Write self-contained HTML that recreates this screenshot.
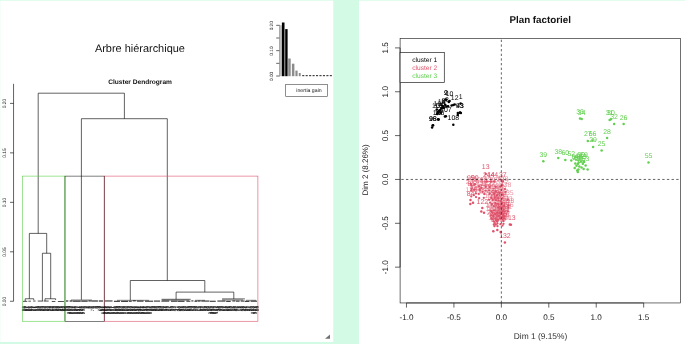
<!DOCTYPE html>
<html lang="fr"><head><meta charset="utf-8"><title>HCPCshiny</title>
<style>html,body{margin:0;padding:0;background:#D2FAE5;overflow:hidden}svg{display:block;position:absolute;left:0;top:0}text{font-family:"Liberation Sans",sans-serif;text-rendering:geometricPrecision}</style></head><body>
<svg width="685" height="344" viewBox="0 0 685 344">
<defs><filter id="soft" filterUnits="userSpaceOnUse" x="-10" y="-10" width="705" height="364" color-interpolation-filters="sRGB"><feGaussianBlur stdDeviation="0.3"/></filter></defs>
<g filter="url(#soft)">
<rect x="-10" y="-10" width="705" height="364" fill="#D2FAE5"/>
<rect x="0.2" y="0.65" width="333.1" height="341.25" fill="#fff"/>
<rect x="359.0" y="0.65" width="336.2" height="353.5" fill="#fff"/>
<polygon points="325.0,338.7 330,334.6 330,338.7" fill="#707070"/>
<text x="139.90" y="52.10" font-size="10.95" fill="#111" text-anchor="middle" font-weight="normal" >Arbre hiérarchique</text>
<text x="140.10" y="84.30" font-size="6.60" fill="#111" text-anchor="middle" font-weight="bold" >Cluster Dendrogram</text>
<line x1="13.55" y1="83.80" x2="13.55" y2="301.27" stroke="#000" stroke-width="0.62" />
<line x1="10.00" y1="103.40" x2="13.55" y2="103.40" stroke="#000" stroke-width="0.62" />
<text x="5.85" y="103.60" font-size="4.90" fill="#222" text-anchor="middle" font-weight="normal" transform="rotate(-90 5.85 103.60)" >0.20</text>
<line x1="10.00" y1="152.87" x2="13.55" y2="152.87" stroke="#000" stroke-width="0.62" />
<text x="5.85" y="153.07" font-size="4.90" fill="#222" text-anchor="middle" font-weight="normal" transform="rotate(-90 5.85 153.07)" >0.15</text>
<line x1="10.00" y1="202.33" x2="13.55" y2="202.33" stroke="#000" stroke-width="0.62" />
<text x="5.85" y="202.53" font-size="4.90" fill="#222" text-anchor="middle" font-weight="normal" transform="rotate(-90 5.85 202.53)" >0.10</text>
<line x1="10.00" y1="251.80" x2="13.55" y2="251.80" stroke="#000" stroke-width="0.62" />
<text x="5.85" y="252.00" font-size="4.90" fill="#222" text-anchor="middle" font-weight="normal" transform="rotate(-90 5.85 252.00)" >0.05</text>
<line x1="10.00" y1="301.27" x2="13.55" y2="301.27" stroke="#000" stroke-width="0.62" />
<text x="5.85" y="301.47" font-size="4.90" fill="#222" text-anchor="middle" font-weight="normal" transform="rotate(-90 5.85 301.47)" >0.00</text>
<line x1="38.20" y1="93.20" x2="124.40" y2="93.20" stroke="#000" stroke-width="0.62" />
<line x1="38.20" y1="93.20" x2="38.20" y2="233.40" stroke="#000" stroke-width="0.62" />
<line x1="124.40" y1="93.20" x2="124.40" y2="118.70" stroke="#000" stroke-width="0.62" />
<line x1="81.40" y1="118.70" x2="167.30" y2="118.70" stroke="#000" stroke-width="0.62" />
<line x1="81.40" y1="118.70" x2="81.40" y2="299.80" stroke="#000" stroke-width="0.62" />
<line x1="167.30" y1="118.70" x2="167.30" y2="280.50" stroke="#000" stroke-width="0.62" />
<line x1="29.35" y1="233.40" x2="46.70" y2="233.40" stroke="#000" stroke-width="0.62" />
<line x1="29.35" y1="233.40" x2="29.35" y2="298.76" stroke="#000" stroke-width="0.62" />
<line x1="46.70" y1="233.40" x2="46.70" y2="253.25" stroke="#000" stroke-width="0.62" />
<line x1="42.40" y1="253.25" x2="50.70" y2="253.25" stroke="#000" stroke-width="0.62" />
<line x1="42.40" y1="253.25" x2="42.40" y2="301.20" stroke="#000" stroke-width="0.62" />
<line x1="50.70" y1="253.25" x2="50.70" y2="298.76" stroke="#000" stroke-width="0.62" />
<line x1="25.20" y1="298.76" x2="33.75" y2="298.76" stroke="#000" stroke-width="0.62" />
<line x1="25.20" y1="298.76" x2="25.20" y2="301.20" stroke="#000" stroke-width="0.62" />
<line x1="33.75" y1="298.76" x2="33.75" y2="300.00" stroke="#000" stroke-width="0.62" />
<line x1="45.00" y1="298.76" x2="55.60" y2="298.76" stroke="#000" stroke-width="0.62" />
<line x1="45.00" y1="298.76" x2="45.00" y2="301.20" stroke="#000" stroke-width="0.62" />
<line x1="55.60" y1="298.76" x2="55.60" y2="300.00" stroke="#000" stroke-width="0.62" />
<line x1="130.30" y1="280.50" x2="204.80" y2="280.50" stroke="#000" stroke-width="0.62" />
<line x1="130.30" y1="280.50" x2="130.30" y2="300.00" stroke="#000" stroke-width="0.62" />
<line x1="204.80" y1="280.50" x2="204.80" y2="292.10" stroke="#000" stroke-width="0.62" />
<line x1="176.10" y1="292.10" x2="233.80" y2="292.10" stroke="#000" stroke-width="0.62" />
<line x1="176.10" y1="292.10" x2="176.10" y2="299.30" stroke="#000" stroke-width="0.62" />
<line x1="233.80" y1="292.10" x2="233.80" y2="298.90" stroke="#000" stroke-width="0.62" />
<line x1="161.50" y1="299.30" x2="190.70" y2="299.30" stroke="#000" stroke-width="0.62" />
<line x1="222.10" y1="298.90" x2="244.90" y2="298.90" stroke="#000" stroke-width="0.62" />
<line x1="23.00" y1="301.33" x2="27.27" y2="301.33" stroke="#000" stroke-width="0.70" />
<line x1="28.39" y1="301.18" x2="30.89" y2="301.18" stroke="#000" stroke-width="0.70" />
<line x1="33.17" y1="301.02" x2="35.57" y2="301.02" stroke="#000" stroke-width="0.70" />
<line x1="37.76" y1="301.05" x2="42.80" y2="301.05" stroke="#000" stroke-width="0.70" />
<line x1="43.67" y1="301.06" x2="48.65" y2="301.06" stroke="#000" stroke-width="0.70" />
<line x1="51.79" y1="301.47" x2="55.36" y2="301.47" stroke="#000" stroke-width="0.70" />
<line x1="57.90" y1="301.49" x2="63.94" y2="301.49" stroke="#000" stroke-width="0.70" />
<line x1="66.00" y1="300.99" x2="68.33" y2="300.99" stroke="#000" stroke-width="1.00" />
<line x1="69.62" y1="301.00" x2="72.63" y2="301.00" stroke="#000" stroke-width="1.00" />
<line x1="73.04" y1="301.14" x2="80.75" y2="301.14" stroke="#000" stroke-width="1.00" />
<line x1="81.24" y1="301.12" x2="87.71" y2="301.12" stroke="#000" stroke-width="1.00" />
<line x1="88.42" y1="300.95" x2="90.86" y2="300.95" stroke="#000" stroke-width="1.00" />
<line x1="91.20" y1="301.01" x2="97.96" y2="301.01" stroke="#000" stroke-width="1.00" />
<line x1="98.74" y1="301.00" x2="103.00" y2="301.00" stroke="#000" stroke-width="1.00" />
<line x1="105.00" y1="300.97" x2="112.56" y2="300.97" stroke="#000" stroke-width="0.90" />
<line x1="113.94" y1="301.29" x2="119.96" y2="301.29" stroke="#000" stroke-width="0.90" />
<line x1="121.08" y1="301.34" x2="128.19" y2="301.34" stroke="#000" stroke-width="0.90" />
<line x1="128.96" y1="301.23" x2="131.78" y2="301.23" stroke="#000" stroke-width="0.90" />
<line x1="132.74" y1="300.87" x2="135.81" y2="300.87" stroke="#000" stroke-width="0.90" />
<line x1="136.87" y1="301.14" x2="143.55" y2="301.14" stroke="#000" stroke-width="0.90" />
<line x1="145.03" y1="301.20" x2="153.16" y2="301.20" stroke="#000" stroke-width="0.90" />
<line x1="153.96" y1="301.08" x2="160.12" y2="301.08" stroke="#000" stroke-width="0.90" />
<line x1="161.33" y1="301.09" x2="169.21" y2="301.09" stroke="#000" stroke-width="0.90" />
<line x1="170.96" y1="301.20" x2="177.61" y2="301.20" stroke="#000" stroke-width="0.90" />
<line x1="178.03" y1="301.26" x2="184.56" y2="301.26" stroke="#000" stroke-width="0.90" />
<line x1="186.38" y1="301.18" x2="190.38" y2="301.18" stroke="#000" stroke-width="0.90" />
<line x1="191.29" y1="300.93" x2="193.45" y2="300.93" stroke="#000" stroke-width="0.90" />
<line x1="194.47" y1="301.23" x2="197.29" y2="301.23" stroke="#000" stroke-width="0.90" />
<line x1="197.71" y1="301.05" x2="200.62" y2="301.05" stroke="#000" stroke-width="0.90" />
<line x1="201.32" y1="301.07" x2="209.42" y2="301.07" stroke="#000" stroke-width="0.90" />
<line x1="209.88" y1="301.26" x2="215.72" y2="301.26" stroke="#000" stroke-width="0.90" />
<line x1="217.38" y1="301.06" x2="225.43" y2="301.06" stroke="#000" stroke-width="0.90" />
<line x1="226.18" y1="301.33" x2="230.69" y2="301.33" stroke="#000" stroke-width="0.90" />
<line x1="232.35" y1="300.97" x2="235.41" y2="300.97" stroke="#000" stroke-width="0.90" />
<line x1="236.01" y1="301.14" x2="239.64" y2="301.14" stroke="#000" stroke-width="0.90" />
<line x1="240.70" y1="301.06" x2="244.54" y2="301.06" stroke="#000" stroke-width="0.90" />
<line x1="244.88" y1="301.33" x2="249.46" y2="301.33" stroke="#000" stroke-width="0.90" />
<line x1="250.65" y1="301.16" x2="257.00" y2="301.16" stroke="#000" stroke-width="0.90" />
<line x1="71.00" y1="300.00" x2="92.00" y2="300.00" stroke="#000" stroke-width="0.50" />
<line x1="117.00" y1="300.30" x2="149.00" y2="300.30" stroke="#000" stroke-width="0.50" />
<line x1="162.00" y1="300.20" x2="189.00" y2="300.20" stroke="#000" stroke-width="0.50" />
<line x1="195.00" y1="300.30" x2="205.00" y2="300.30" stroke="#000" stroke-width="0.50" />
<line x1="222.00" y1="300.00" x2="243.00" y2="300.00" stroke="#000" stroke-width="0.50" />
<line x1="246.00" y1="300.30" x2="256.00" y2="300.30" stroke="#000" stroke-width="0.50" />
<rect x="22.45" y="176.10" width="42.30" height="145.16" fill="none" stroke="#61D04F" stroke-width="0.60"/>
<rect x="104.50" y="176.10" width="153.40" height="145.16" fill="none" stroke="#DF536B" stroke-width="0.60"/>
<rect x="65.05" y="176.10" width="39.10" height="145.16" fill="none" stroke="#000" stroke-width="0.50"/>
<g font-size="4.50" fill="#000" opacity="0.95" text-anchor="end" letter-spacing="0.4">
<text transform="translate(22.95 305.5) rotate(-90)" x="0" y="1.6">96</text>
<text transform="translate(23.96 305.5) rotate(-90)" x="0" y="1.6">16</text>
<text transform="translate(24.96 305.5) rotate(-90)" x="0" y="1.6">68</text>
<text transform="translate(25.97 305.5) rotate(-90)" x="0" y="1.6">97</text>
<text transform="translate(26.97 305.5) rotate(-90)" x="0" y="1.6">81</text>
<text transform="translate(27.98 305.5) rotate(-90)" x="0" y="1.6">60</text>
<text transform="translate(28.99 305.5) rotate(-90)" x="0" y="1.6">60</text>
<text transform="translate(29.99 305.5) rotate(-90)" x="0" y="1.6">61</text>
<text transform="translate(31.00 305.5) rotate(-90)" x="0" y="1.6">60</text>
<text transform="translate(32.01 305.5) rotate(-90)" x="0" y="1.6">23</text>
<text transform="translate(33.01 305.5) rotate(-90)" x="0" y="1.6">71</text>
<text transform="translate(34.02 305.5) rotate(-90)" x="0" y="1.6">91</text>
<text transform="translate(35.02 305.5) rotate(-90)" x="0" y="1.6">61</text>
<text transform="translate(36.03 305.5) rotate(-90)" x="0" y="1.6">17</text>
<text transform="translate(37.04 305.5) rotate(-90)" x="0" y="1.6">34</text>
<text transform="translate(38.04 305.5) rotate(-90)" x="0" y="1.6">18</text>
<text transform="translate(39.05 305.5) rotate(-90)" x="0" y="1.6">36</text>
<text transform="translate(40.06 305.5) rotate(-90)" x="0" y="1.6">66</text>
<text transform="translate(41.06 305.5) rotate(-90)" x="0" y="1.6">30</text>
<text transform="translate(42.07 305.5) rotate(-90)" x="0" y="1.6">24</text>
<text transform="translate(43.07 305.5) rotate(-90)" x="0" y="1.6">53</text>
<text transform="translate(44.08 305.5) rotate(-90)" x="0" y="1.6">86</text>
<text transform="translate(45.09 305.5) rotate(-90)" x="0" y="1.6">16</text>
<text transform="translate(46.09 305.5) rotate(-90)" x="0" y="1.6">23</text>
<text transform="translate(47.10 305.5) rotate(-90)" x="0" y="1.6">10</text>
<text transform="translate(48.11 305.5) rotate(-90)" x="0" y="1.6">82</text>
<text transform="translate(49.11 305.5) rotate(-90)" x="0" y="1.6">29</text>
<text transform="translate(50.12 305.5) rotate(-90)" x="0" y="1.6">78</text>
<text transform="translate(51.12 305.5) rotate(-90)" x="0" y="1.6">22</text>
<text transform="translate(52.13 305.5) rotate(-90)" x="0" y="1.6">56</text>
<text transform="translate(53.14 305.5) rotate(-90)" x="0" y="1.6">88</text>
<text transform="translate(54.14 305.5) rotate(-90)" x="0" y="1.6">13</text>
<text transform="translate(55.15 305.5) rotate(-90)" x="0" y="1.6">19</text>
<text transform="translate(56.16 305.5) rotate(-90)" x="0" y="1.6">36</text>
<text transform="translate(57.16 305.5) rotate(-90)" x="0" y="1.6">88</text>
<text transform="translate(58.17 305.5) rotate(-90)" x="0" y="1.6">58</text>
<text transform="translate(59.17 305.5) rotate(-90)" x="0" y="1.6">29</text>
<text transform="translate(60.18 305.5) rotate(-90)" x="0" y="1.6">91</text>
<text transform="translate(61.19 305.5) rotate(-90)" x="0" y="1.6">42</text>
<text transform="translate(62.19 305.5) rotate(-90)" x="0" y="1.6">54</text>
<text transform="translate(63.20 305.5) rotate(-90)" x="0" y="1.6">87</text>
<text transform="translate(64.21 305.5) rotate(-90)" x="0" y="1.6">56</text>
<text transform="translate(65.21 305.5) rotate(-90)" x="0" y="1.6">70</text>
<text transform="translate(66.22 305.5) rotate(-90)" x="0" y="1.6">25</text>
<text transform="translate(67.22 305.5) rotate(-90)" x="0" y="1.6">24</text>
<text transform="translate(68.23 305.5) rotate(-90)" x="0" y="1.6">224</text>
<text transform="translate(69.24 305.5) rotate(-90)" x="0" y="1.6">219</text>
<text transform="translate(70.24 305.5) rotate(-90)" x="0" y="1.6">222</text>
<text transform="translate(71.25 305.5) rotate(-90)" x="0" y="1.6">223</text>
<text transform="translate(72.25 305.5) rotate(-90)" x="0" y="1.6">179</text>
<text transform="translate(73.26 305.5) rotate(-90)" x="0" y="1.6">121</text>
<text transform="translate(74.27 305.5) rotate(-90)" x="0" y="1.6">136</text>
<text transform="translate(75.27 305.5) rotate(-90)" x="0" y="1.6">126</text>
<text transform="translate(76.28 305.5) rotate(-90)" x="0" y="1.6">187</text>
<text transform="translate(77.29 305.5) rotate(-90)" x="0" y="1.6">167</text>
<text transform="translate(78.29 305.5) rotate(-90)" x="0" y="1.6">222</text>
<text transform="translate(79.30 305.5) rotate(-90)" x="0" y="1.6">141</text>
<text transform="translate(80.30 305.5) rotate(-90)" x="0" y="1.6">232</text>
<text transform="translate(81.31 305.5) rotate(-90)" x="0" y="1.6">105</text>
<text transform="translate(82.32 305.5) rotate(-90)" x="0" y="1.6">152</text>
<text transform="translate(83.32 305.5) rotate(-90)" x="0" y="1.6">235</text>
<text transform="translate(84.33 305.5) rotate(-90)" x="0" y="1.6">6</text>
<text transform="translate(85.34 305.5) rotate(-90)" x="0" y="1.6">3</text>
<text transform="translate(86.34 305.5) rotate(-90)" x="0" y="1.6">9</text>
<text transform="translate(87.35 305.5) rotate(-90)" x="0" y="1.6">1</text>
<text transform="translate(88.35 305.5) rotate(-90)" x="0" y="1.6">9</text>
<text transform="translate(89.36 305.5) rotate(-90)" x="0" y="1.6">5</text>
<text transform="translate(90.37 305.5) rotate(-90)" x="0" y="1.6">2</text>
<text transform="translate(91.37 305.5) rotate(-90)" x="0" y="1.6">5</text>
<text transform="translate(92.38 305.5) rotate(-90)" x="0" y="1.6">76</text>
<text transform="translate(93.39 305.5) rotate(-90)" x="0" y="1.6">6</text>
<text transform="translate(94.39 305.5) rotate(-90)" x="0" y="1.6">3</text>
<text transform="translate(95.40 305.5) rotate(-90)" x="0" y="1.6">6</text>
<text transform="translate(96.40 305.5) rotate(-90)" x="0" y="1.6">4</text>
<text transform="translate(97.41 305.5) rotate(-90)" x="0" y="1.6">9</text>
<text transform="translate(98.42 305.5) rotate(-90)" x="0" y="1.6">9</text>
<text transform="translate(99.42 305.5) rotate(-90)" x="0" y="1.6">74</text>
<text transform="translate(100.43 305.5) rotate(-90)" x="0" y="1.6">52</text>
<text transform="translate(101.44 305.5) rotate(-90)" x="0" y="1.6">91</text>
<text transform="translate(102.44 305.5) rotate(-90)" x="0" y="1.6">157</text>
<text transform="translate(103.45 305.5) rotate(-90)" x="0" y="1.6">149</text>
<text transform="translate(104.45 305.5) rotate(-90)" x="0" y="1.6">161</text>
<text transform="translate(105.46 305.5) rotate(-90)" x="0" y="1.6">202</text>
<text transform="translate(106.47 305.5) rotate(-90)" x="0" y="1.6">158</text>
<text transform="translate(107.47 305.5) rotate(-90)" x="0" y="1.6">151</text>
<text transform="translate(108.48 305.5) rotate(-90)" x="0" y="1.6">232</text>
<text transform="translate(109.49 305.5) rotate(-90)" x="0" y="1.6">226</text>
<text transform="translate(110.49 305.5) rotate(-90)" x="0" y="1.6">191</text>
<text transform="translate(111.50 305.5) rotate(-90)" x="0" y="1.6">107</text>
<text transform="translate(112.50 305.5) rotate(-90)" x="0" y="1.6">107</text>
<text transform="translate(113.51 305.5) rotate(-90)" x="0" y="1.6">171</text>
<text transform="translate(114.52 305.5) rotate(-90)" x="0" y="1.6">220</text>
<text transform="translate(115.52 305.5) rotate(-90)" x="0" y="1.6">166</text>
<text transform="translate(116.53 305.5) rotate(-90)" x="0" y="1.6">149</text>
<text transform="translate(117.53 305.5) rotate(-90)" x="0" y="1.6">188</text>
<text transform="translate(118.54 305.5) rotate(-90)" x="0" y="1.6">214</text>
<text transform="translate(119.55 305.5) rotate(-90)" x="0" y="1.6">189</text>
<text transform="translate(120.55 305.5) rotate(-90)" x="0" y="1.6">193</text>
<text transform="translate(121.56 305.5) rotate(-90)" x="0" y="1.6">120</text>
<text transform="translate(122.57 305.5) rotate(-90)" x="0" y="1.6">156</text>
<text transform="translate(123.57 305.5) rotate(-90)" x="0" y="1.6">126</text>
<text transform="translate(124.58 305.5) rotate(-90)" x="0" y="1.6">158</text>
<text transform="translate(125.58 305.5) rotate(-90)" x="0" y="1.6">70</text>
<text transform="translate(126.59 305.5) rotate(-90)" x="0" y="1.6">150</text>
<text transform="translate(127.60 305.5) rotate(-90)" x="0" y="1.6">186</text>
<text transform="translate(128.60 305.5) rotate(-90)" x="0" y="1.6">152</text>
<text transform="translate(129.61 305.5) rotate(-90)" x="0" y="1.6">223</text>
<text transform="translate(130.62 305.5) rotate(-90)" x="0" y="1.6">100</text>
<text transform="translate(131.62 305.5) rotate(-90)" x="0" y="1.6">222</text>
<text transform="translate(132.63 305.5) rotate(-90)" x="0" y="1.6">188</text>
<text transform="translate(133.63 305.5) rotate(-90)" x="0" y="1.6">121</text>
<text transform="translate(134.64 305.5) rotate(-90)" x="0" y="1.6">130</text>
<text transform="translate(135.65 305.5) rotate(-90)" x="0" y="1.6">199</text>
<text transform="translate(136.65 305.5) rotate(-90)" x="0" y="1.6">151</text>
<text transform="translate(137.66 305.5) rotate(-90)" x="0" y="1.6">222</text>
<text transform="translate(138.67 305.5) rotate(-90)" x="0" y="1.6">145</text>
<text transform="translate(139.67 305.5) rotate(-90)" x="0" y="1.6">211</text>
<text transform="translate(140.68 305.5) rotate(-90)" x="0" y="1.6">185</text>
<text transform="translate(141.68 305.5) rotate(-90)" x="0" y="1.6">122</text>
<text transform="translate(142.69 305.5) rotate(-90)" x="0" y="1.6">201</text>
<text transform="translate(143.70 305.5) rotate(-90)" x="0" y="1.6">218</text>
<text transform="translate(144.70 305.5) rotate(-90)" x="0" y="1.6">202</text>
<text transform="translate(145.71 305.5) rotate(-90)" x="0" y="1.6">121</text>
<text transform="translate(146.72 305.5) rotate(-90)" x="0" y="1.6">140</text>
<text transform="translate(147.72 305.5) rotate(-90)" x="0" y="1.6">143</text>
<text transform="translate(148.73 305.5) rotate(-90)" x="0" y="1.6">132</text>
<text transform="translate(149.73 305.5) rotate(-90)" x="0" y="1.6">107</text>
<text transform="translate(150.74 305.5) rotate(-90)" x="0" y="1.6">138</text>
<text transform="translate(151.75 305.5) rotate(-90)" x="0" y="1.6">85</text>
<text transform="translate(152.75 305.5) rotate(-90)" x="0" y="1.6">69</text>
<text transform="translate(153.76 305.5) rotate(-90)" x="0" y="1.6">93</text>
<text transform="translate(154.77 305.5) rotate(-90)" x="0" y="1.6">28</text>
<text transform="translate(155.77 305.5) rotate(-90)" x="0" y="1.6">88</text>
<text transform="translate(156.78 305.5) rotate(-90)" x="0" y="1.6">86</text>
<text transform="translate(157.78 305.5) rotate(-90)" x="0" y="1.6">70</text>
<text transform="translate(158.79 305.5) rotate(-90)" x="0" y="1.6">94</text>
<text transform="translate(159.80 305.5) rotate(-90)" x="0" y="1.6">54</text>
<text transform="translate(160.80 305.5) rotate(-90)" x="0" y="1.6">29</text>
<text transform="translate(161.81 305.5) rotate(-90)" x="0" y="1.6">80</text>
<text transform="translate(162.82 305.5) rotate(-90)" x="0" y="1.6">80</text>
<text transform="translate(163.82 305.5) rotate(-90)" x="0" y="1.6">26</text>
<text transform="translate(164.83 305.5) rotate(-90)" x="0" y="1.6">12</text>
<text transform="translate(165.83 305.5) rotate(-90)" x="0" y="1.6">11</text>
<text transform="translate(166.84 305.5) rotate(-90)" x="0" y="1.6">93</text>
<text transform="translate(167.85 305.5) rotate(-90)" x="0" y="1.6">23</text>
<text transform="translate(168.85 305.5) rotate(-90)" x="0" y="1.6">77</text>
<text transform="translate(169.86 305.5) rotate(-90)" x="0" y="1.6">27</text>
<text transform="translate(170.86 305.5) rotate(-90)" x="0" y="1.6">65</text>
<text transform="translate(171.87 305.5) rotate(-90)" x="0" y="1.6">34</text>
<text transform="translate(172.88 305.5) rotate(-90)" x="0" y="1.6">37</text>
<text transform="translate(173.88 305.5) rotate(-90)" x="0" y="1.6">13</text>
<text transform="translate(174.89 305.5) rotate(-90)" x="0" y="1.6">42</text>
<text transform="translate(175.90 305.5) rotate(-90)" x="0" y="1.6">37</text>
<text transform="translate(176.90 305.5) rotate(-90)" x="0" y="1.6">47</text>
<text transform="translate(177.91 305.5) rotate(-90)" x="0" y="1.6">74</text>
<text transform="translate(178.91 305.5) rotate(-90)" x="0" y="1.6">40</text>
<text transform="translate(179.92 305.5) rotate(-90)" x="0" y="1.6">85</text>
<text transform="translate(180.93 305.5) rotate(-90)" x="0" y="1.6">51</text>
<text transform="translate(181.93 305.5) rotate(-90)" x="0" y="1.6">43</text>
<text transform="translate(182.94 305.5) rotate(-90)" x="0" y="1.6">79</text>
<text transform="translate(183.95 305.5) rotate(-90)" x="0" y="1.6">63</text>
<text transform="translate(184.95 305.5) rotate(-90)" x="0" y="1.6">26</text>
<text transform="translate(185.96 305.5) rotate(-90)" x="0" y="1.6">17</text>
<text transform="translate(186.96 305.5) rotate(-90)" x="0" y="1.6">55</text>
<text transform="translate(187.97 305.5) rotate(-90)" x="0" y="1.6">68</text>
<text transform="translate(188.98 305.5) rotate(-90)" x="0" y="1.6">94</text>
<text transform="translate(189.98 305.5) rotate(-90)" x="0" y="1.6">84</text>
<text transform="translate(190.99 305.5) rotate(-90)" x="0" y="1.6">76</text>
<text transform="translate(192.00 305.5) rotate(-90)" x="0" y="1.6">63</text>
<text transform="translate(193.00 305.5) rotate(-90)" x="0" y="1.6">74</text>
<text transform="translate(194.01 305.5) rotate(-90)" x="0" y="1.6">26</text>
<text transform="translate(195.01 305.5) rotate(-90)" x="0" y="1.6">78</text>
<text transform="translate(196.02 305.5) rotate(-90)" x="0" y="1.6">29</text>
<text transform="translate(197.03 305.5) rotate(-90)" x="0" y="1.6">77</text>
<text transform="translate(198.03 305.5) rotate(-90)" x="0" y="1.6">75</text>
<text transform="translate(199.04 305.5) rotate(-90)" x="0" y="1.6">12</text>
<text transform="translate(200.05 305.5) rotate(-90)" x="0" y="1.6">66</text>
<text transform="translate(201.05 305.5) rotate(-90)" x="0" y="1.6">33</text>
<text transform="translate(202.06 305.5) rotate(-90)" x="0" y="1.6">87</text>
<text transform="translate(203.06 305.5) rotate(-90)" x="0" y="1.6">10</text>
<text transform="translate(204.07 305.5) rotate(-90)" x="0" y="1.6">29</text>
<text transform="translate(205.08 305.5) rotate(-90)" x="0" y="1.6">32</text>
<text transform="translate(206.08 305.5) rotate(-90)" x="0" y="1.6">28</text>
<text transform="translate(207.09 305.5) rotate(-90)" x="0" y="1.6">70</text>
<text transform="translate(208.10 305.5) rotate(-90)" x="0" y="1.6">89</text>
<text transform="translate(209.10 305.5) rotate(-90)" x="0" y="1.6">130</text>
<text transform="translate(210.11 305.5) rotate(-90)" x="0" y="1.6">115</text>
<text transform="translate(211.11 305.5) rotate(-90)" x="0" y="1.6">183</text>
<text transform="translate(212.12 305.5) rotate(-90)" x="0" y="1.6">232</text>
<text transform="translate(213.13 305.5) rotate(-90)" x="0" y="1.6">235</text>
<text transform="translate(214.13 305.5) rotate(-90)" x="0" y="1.6">223</text>
<text transform="translate(215.14 305.5) rotate(-90)" x="0" y="1.6">127</text>
<text transform="translate(216.14 305.5) rotate(-90)" x="0" y="1.6">114</text>
<text transform="translate(217.15 305.5) rotate(-90)" x="0" y="1.6">41</text>
<text transform="translate(218.16 305.5) rotate(-90)" x="0" y="1.6">34</text>
<text transform="translate(219.16 305.5) rotate(-90)" x="0" y="1.6">45</text>
<text transform="translate(220.17 305.5) rotate(-90)" x="0" y="1.6">15</text>
<text transform="translate(221.18 305.5) rotate(-90)" x="0" y="1.6">22</text>
<text transform="translate(222.18 305.5) rotate(-90)" x="0" y="1.6">74</text>
<text transform="translate(223.19 305.5) rotate(-90)" x="0" y="1.6">67</text>
<text transform="translate(224.19 305.5) rotate(-90)" x="0" y="1.6">81</text>
<text transform="translate(225.20 305.5) rotate(-90)" x="0" y="1.6">13</text>
<text transform="translate(226.21 305.5) rotate(-90)" x="0" y="1.6">18</text>
<text transform="translate(227.21 305.5) rotate(-90)" x="0" y="1.6">66</text>
<text transform="translate(228.22 305.5) rotate(-90)" x="0" y="1.6">51</text>
<text transform="translate(229.23 305.5) rotate(-90)" x="0" y="1.6">88</text>
<text transform="translate(230.23 305.5) rotate(-90)" x="0" y="1.6">74</text>
<text transform="translate(231.24 305.5) rotate(-90)" x="0" y="1.6">87</text>
<text transform="translate(232.24 305.5) rotate(-90)" x="0" y="1.6">75</text>
<text transform="translate(233.25 305.5) rotate(-90)" x="0" y="1.6">35</text>
<text transform="translate(234.26 305.5) rotate(-90)" x="0" y="1.6">98</text>
<text transform="translate(235.26 305.5) rotate(-90)" x="0" y="1.6">45</text>
<text transform="translate(236.27 305.5) rotate(-90)" x="0" y="1.6">67</text>
<text transform="translate(237.28 305.5) rotate(-90)" x="0" y="1.6">75</text>
<text transform="translate(238.28 305.5) rotate(-90)" x="0" y="1.6">78</text>
<text transform="translate(239.29 305.5) rotate(-90)" x="0" y="1.6">71</text>
<text transform="translate(240.29 305.5) rotate(-90)" x="0" y="1.6">74</text>
<text transform="translate(241.30 305.5) rotate(-90)" x="0" y="1.6">41</text>
<text transform="translate(242.31 305.5) rotate(-90)" x="0" y="1.6">99</text>
<text transform="translate(243.31 305.5) rotate(-90)" x="0" y="1.6">76</text>
<text transform="translate(244.32 305.5) rotate(-90)" x="0" y="1.6">43</text>
<text transform="translate(245.33 305.5) rotate(-90)" x="0" y="1.6">81</text>
<text transform="translate(246.33 305.5) rotate(-90)" x="0" y="1.6">35</text>
<text transform="translate(247.34 305.5) rotate(-90)" x="0" y="1.6">67</text>
<text transform="translate(248.34 305.5) rotate(-90)" x="0" y="1.6">27</text>
<text transform="translate(249.35 305.5) rotate(-90)" x="0" y="1.6">63</text>
<text transform="translate(250.36 305.5) rotate(-90)" x="0" y="1.6">25</text>
<text transform="translate(251.36 305.5) rotate(-90)" x="0" y="1.6">60</text>
<text transform="translate(252.37 305.5) rotate(-90)" x="0" y="1.6">213</text>
<text transform="translate(253.38 305.5) rotate(-90)" x="0" y="1.6">180</text>
<text transform="translate(254.38 305.5) rotate(-90)" x="0" y="1.6">118</text>
<text transform="translate(255.39 305.5) rotate(-90)" x="0" y="1.6">161</text>
<text transform="translate(256.39 305.5) rotate(-90)" x="0" y="1.6">64</text>
<text transform="translate(257.40 305.5) rotate(-90)" x="0" y="1.6">19</text>
</g>
<line x1="279.80" y1="25.33" x2="279.80" y2="76.00" stroke="#000" stroke-width="0.60" />
<line x1="276.20" y1="25.33" x2="279.80" y2="25.33" stroke="#000" stroke-width="0.60" />
<line x1="276.20" y1="38.00" x2="279.80" y2="38.00" stroke="#000" stroke-width="0.60" />
<line x1="276.20" y1="50.67" x2="279.80" y2="50.67" stroke="#000" stroke-width="0.60" />
<line x1="276.20" y1="63.33" x2="279.80" y2="63.33" stroke="#000" stroke-width="0.60" />
<line x1="276.20" y1="76.00" x2="279.80" y2="76.00" stroke="#000" stroke-width="0.60" />
<text x="272.60" y="25.73" font-size="4.70" fill="#222" text-anchor="middle" font-weight="normal" transform="rotate(-90 272.60 25.73)" >0.20</text>
<text x="272.60" y="51.07" font-size="4.70" fill="#222" text-anchor="middle" font-weight="normal" transform="rotate(-90 272.60 51.07)" >0.10</text>
<text x="272.60" y="76.40" font-size="4.70" fill="#222" text-anchor="middle" font-weight="normal" transform="rotate(-90 272.60 76.40)" >0.00</text>
<rect x="279.50" y="25.30" width="2.40" height="50.90" fill="#c0c0c0"/>
<rect x="281.90" y="22.50" width="2.60" height="53.70" fill="#000"/>
<rect x="285.20" y="29.10" width="2.40" height="47.10" fill="#000"/>
<rect x="288.20" y="58.50" width="2.50" height="17.70" fill="#8c8c8c"/>
<rect x="291.90" y="63.70" width="2.50" height="12.50" fill="#8c8c8c"/>
<rect x="295.40" y="70.60" width="2.20" height="5.60" fill="#8c8c8c"/>
<rect x="298.80" y="73.00" width="1.90" height="3.20" fill="#8c8c8c"/>
<rect x="302.20" y="75" width="2.1" height="1.2" fill="#444"/>
<rect x="305.65" y="75" width="2.1" height="1.2" fill="#444"/>
<rect x="309.10" y="75" width="2.1" height="1.2" fill="#444"/>
<rect x="312.55" y="75" width="2.1" height="1.2" fill="#444"/>
<rect x="316.00" y="75" width="2.1" height="1.2" fill="#444"/>
<rect x="319.45" y="75" width="2.1" height="1.2" fill="#444"/>
<rect x="322.90" y="75" width="2.1" height="1.2" fill="#444"/>
<rect x="326.35" y="75" width="2.1" height="1.2" fill="#444"/>
<rect x="329.80" y="75" width="2.1" height="1.2" fill="#444"/>
<rect x="285.70" y="84.40" width="41.80" height="11.90" fill="none" stroke="#444" stroke-width="0.60"/>
<text x="309.00" y="92.20" font-size="5.20" fill="#222" text-anchor="middle" font-weight="normal" >inertia gain</text>
<text x="540.20" y="23.20" font-size="9.80" fill="#111" text-anchor="middle" font-weight="bold" >Plan factoriel</text>
<rect x="400.10" y="38.50" width="280.30" height="264.45" fill="none" stroke="#222" stroke-width="0.65"/>
<line x1="406.47" y1="302.95" x2="406.47" y2="307.60" stroke="#222" stroke-width="0.70" />
<text x="406.47" y="319.90" font-size="8.15" fill="#222" text-anchor="middle" font-weight="normal" >-1.0</text>
<line x1="453.91" y1="302.95" x2="453.91" y2="307.60" stroke="#222" stroke-width="0.70" />
<text x="453.91" y="319.90" font-size="8.15" fill="#222" text-anchor="middle" font-weight="normal" >-0.5</text>
<line x1="501.35" y1="302.95" x2="501.35" y2="307.60" stroke="#222" stroke-width="0.70" />
<text x="501.35" y="319.90" font-size="8.15" fill="#222" text-anchor="middle" font-weight="normal" >0.0</text>
<line x1="548.79" y1="302.95" x2="548.79" y2="307.60" stroke="#222" stroke-width="0.70" />
<text x="548.79" y="319.90" font-size="8.15" fill="#222" text-anchor="middle" font-weight="normal" >0.5</text>
<line x1="596.23" y1="302.95" x2="596.23" y2="307.60" stroke="#222" stroke-width="0.70" />
<text x="596.23" y="319.90" font-size="8.15" fill="#222" text-anchor="middle" font-weight="normal" >1.0</text>
<line x1="643.67" y1="302.95" x2="643.67" y2="307.60" stroke="#222" stroke-width="0.70" />
<text x="643.67" y="319.90" font-size="8.15" fill="#222" text-anchor="middle" font-weight="normal" >1.5</text>
<line x1="395.00" y1="267.15" x2="400.10" y2="267.15" stroke="#222" stroke-width="0.70" />
<text x="388.40" y="267.15" font-size="8.15" fill="#222" text-anchor="middle" font-weight="normal" transform="rotate(-90 388.40 267.15)" >-1.0</text>
<line x1="395.00" y1="223.30" x2="400.10" y2="223.30" stroke="#222" stroke-width="0.70" />
<text x="388.40" y="223.30" font-size="8.15" fill="#222" text-anchor="middle" font-weight="normal" transform="rotate(-90 388.40 223.30)" >-0.5</text>
<line x1="395.00" y1="179.45" x2="400.10" y2="179.45" stroke="#222" stroke-width="0.70" />
<text x="388.40" y="179.45" font-size="8.15" fill="#222" text-anchor="middle" font-weight="normal" transform="rotate(-90 388.40 179.45)" >0.0</text>
<line x1="395.00" y1="135.60" x2="400.10" y2="135.60" stroke="#222" stroke-width="0.70" />
<text x="388.40" y="135.60" font-size="8.15" fill="#222" text-anchor="middle" font-weight="normal" transform="rotate(-90 388.40 135.60)" >0.5</text>
<line x1="395.00" y1="91.75" x2="400.10" y2="91.75" stroke="#222" stroke-width="0.70" />
<text x="388.40" y="91.75" font-size="8.15" fill="#222" text-anchor="middle" font-weight="normal" transform="rotate(-90 388.40 91.75)" >1.0</text>
<line x1="395.00" y1="47.90" x2="400.10" y2="47.90" stroke="#222" stroke-width="0.70" />
<text x="388.40" y="47.90" font-size="8.15" fill="#222" text-anchor="middle" font-weight="normal" transform="rotate(-90 388.40 47.90)" >1.5</text>
<text x="540.50" y="338.80" font-size="8.40" fill="#333" text-anchor="middle" font-weight="normal" >Dim 1 (9.15%)</text>
<text x="367.70" y="169.90" font-size="8.00" fill="#222" text-anchor="middle" font-weight="normal" transform="rotate(-90 367.70 169.90)" >Dim 2 (8.26%)</text>
<line x1="406.47" y1="302.95" x2="643.67" y2="302.95" stroke="#222" stroke-width="0.70" />
<line x1="400.10" y1="267.15" x2="400.10" y2="47.90" stroke="#222" stroke-width="0.70" />
<circle cx="580.00" cy="118.60" r="1.25" fill="#61D04F"/>
<text x="580.00" y="114.00" font-size="6.90" fill="#61D04F" text-anchor="middle" font-weight="normal" >33</text>
<circle cx="581.70" cy="119.10" r="1.25" fill="#61D04F"/>
<text x="581.70" y="114.50" font-size="6.90" fill="#61D04F" text-anchor="middle" font-weight="normal" >34</text>
<circle cx="609.60" cy="119.90" r="1.25" fill="#61D04F"/>
<text x="609.60" y="115.30" font-size="6.90" fill="#61D04F" text-anchor="middle" font-weight="normal" >31</text>
<circle cx="610.90" cy="119.30" r="1.25" fill="#61D04F"/>
<text x="610.90" y="114.70" font-size="6.90" fill="#61D04F" text-anchor="middle" font-weight="normal" >30</text>
<circle cx="614.10" cy="123.90" r="1.25" fill="#61D04F"/>
<text x="614.10" y="119.30" font-size="6.90" fill="#61D04F" text-anchor="middle" font-weight="normal" >32</text>
<circle cx="623.60" cy="124.10" r="1.25" fill="#61D04F"/>
<text x="623.60" y="119.50" font-size="6.90" fill="#61D04F" text-anchor="middle" font-weight="normal" >26</text>
<circle cx="607.10" cy="138.10" r="1.25" fill="#61D04F"/>
<text x="607.10" y="133.50" font-size="6.90" fill="#61D04F" text-anchor="middle" font-weight="normal" >28</text>
<circle cx="587.80" cy="140.90" r="1.25" fill="#61D04F"/>
<text x="587.80" y="136.30" font-size="6.90" fill="#61D04F" text-anchor="middle" font-weight="normal" >27</text>
<circle cx="592.50" cy="140.40" r="1.25" fill="#61D04F"/>
<text x="592.50" y="135.80" font-size="6.90" fill="#61D04F" text-anchor="middle" font-weight="normal" >66</text>
<circle cx="593.10" cy="146.90" r="1.25" fill="#61D04F"/>
<text x="593.10" y="142.30" font-size="6.90" fill="#61D04F" text-anchor="middle" font-weight="normal" >29</text>
<circle cx="601.60" cy="150.40" r="1.25" fill="#61D04F"/>
<text x="601.60" y="145.80" font-size="6.90" fill="#61D04F" text-anchor="middle" font-weight="normal" >25</text>
<circle cx="543.30" cy="161.20" r="1.25" fill="#61D04F"/>
<text x="543.30" y="156.60" font-size="6.90" fill="#61D04F" text-anchor="middle" font-weight="normal" >39</text>
<circle cx="558.30" cy="158.10" r="1.25" fill="#61D04F"/>
<text x="558.30" y="153.50" font-size="6.90" fill="#61D04F" text-anchor="middle" font-weight="normal" >38</text>
<circle cx="565.30" cy="159.90" r="1.25" fill="#61D04F"/>
<text x="565.30" y="155.30" font-size="6.90" fill="#61D04F" text-anchor="middle" font-weight="normal" >60</text>
<circle cx="571.30" cy="160.60" r="1.25" fill="#61D04F"/>
<text x="571.30" y="156.00" font-size="6.90" fill="#61D04F" text-anchor="middle" font-weight="normal" >52</text>
<circle cx="648.50" cy="162.40" r="1.25" fill="#61D04F"/>
<text x="648.50" y="157.80" font-size="6.90" fill="#61D04F" text-anchor="middle" font-weight="normal" >55</text>
<circle cx="574.70" cy="168.10" r="1.25" fill="#61D04F"/>
<circle cx="577.20" cy="170.60" r="1.25" fill="#61D04F"/>
<circle cx="578.40" cy="169.50" r="1.25" fill="#61D04F"/>
<circle cx="577.80" cy="172.10" r="1.25" fill="#61D04F"/>
<circle cx="582.80" cy="163.70" r="1.25" fill="#61D04F"/>
<text x="582.80" y="159.10" font-size="6.90" fill="#61D04F" text-anchor="middle" font-weight="normal" >63</text>
<circle cx="585.60" cy="165.60" r="1.25" fill="#61D04F"/>
<text x="585.60" y="161.00" font-size="6.90" fill="#61D04F" text-anchor="middle" font-weight="normal" >53</text>
<circle cx="587.60" cy="169.40" r="1.25" fill="#61D04F"/>
<circle cx="577.80" cy="164.10" r="1.25" fill="#61D04F"/>
<text x="577.80" y="159.50" font-size="6.90" fill="#61D04F" text-anchor="middle" font-weight="normal" >61</text>
<circle cx="575.30" cy="163.40" r="1.25" fill="#61D04F"/>
<text x="575.30" y="158.80" font-size="6.90" fill="#61D04F" text-anchor="middle" font-weight="normal" >64</text>
<circle cx="581.30" cy="161.40" r="1.25" fill="#61D04F"/>
<text x="581.30" y="156.80" font-size="6.90" fill="#61D04F" text-anchor="middle" font-weight="normal" >50</text>
<circle cx="579.30" cy="166.60" r="1.25" fill="#61D04F"/>
<text x="579.30" y="162.00" font-size="6.90" fill="#61D04F" text-anchor="middle" font-weight="normal" >47</text>
<circle cx="584.10" cy="161.80" r="1.25" fill="#61D04F"/>
<text x="584.10" y="157.20" font-size="6.90" fill="#61D04F" text-anchor="middle" font-weight="normal" >59</text>
<circle cx="578.70" cy="162.40" r="1.25" fill="#61D04F"/>
<text x="578.70" y="157.80" font-size="6.90" fill="#61D04F" text-anchor="middle" font-weight="normal" >48</text>
<circle cx="581.50" cy="167.40" r="1.25" fill="#61D04F"/>
<text x="581.50" y="162.80" font-size="6.90" fill="#61D04F" text-anchor="middle" font-weight="normal" >35</text>
<circle cx="576.50" cy="165.80" r="1.25" fill="#61D04F"/>
<text x="576.50" y="161.20" font-size="6.90" fill="#61D04F" text-anchor="middle" font-weight="normal" >40</text>
<circle cx="583.60" cy="168.90" r="1.25" fill="#61D04F"/>
<circle cx="460.60" cy="103.40" r="1.25" fill="#000000"/>
<text x="460.60" y="98.80" font-size="6.90" fill="#000000" text-anchor="middle" font-weight="normal" >1</text>
<circle cx="451.60" cy="105.40" r="1.25" fill="#000000"/>
<circle cx="453.30" cy="105.00" r="1.25" fill="#000000"/>
<circle cx="448.10" cy="106.20" r="1.25" fill="#000000"/>
<circle cx="445.30" cy="105.00" r="1.25" fill="#000000"/>
<circle cx="442.80" cy="107.50" r="1.25" fill="#000000"/>
<circle cx="440.30" cy="110.00" r="1.25" fill="#000000"/>
<circle cx="437.80" cy="113.10" r="1.25" fill="#000000"/>
<circle cx="437.20" cy="114.10" r="1.25" fill="#000000"/>
<circle cx="444.90" cy="116.60" r="1.25" fill="#000000"/>
<circle cx="438.30" cy="119.60" r="1.25" fill="#000000"/>
<circle cx="457.80" cy="112.90" r="1.25" fill="#000000"/>
<circle cx="460.90" cy="112.90" r="1.25" fill="#000000"/>
<circle cx="457.80" cy="115.00" r="1.25" fill="#000000"/>
<circle cx="445.70" cy="99.40" r="1.25" fill="#000000"/>
<text x="445.70" y="94.80" font-size="6.90" fill="#000000" text-anchor="middle" font-weight="normal" >9</text>
<circle cx="446.20" cy="99.80" r="1.25" fill="#000000"/>
<text x="446.20" y="95.20" font-size="6.90" fill="#000000" text-anchor="middle" font-weight="normal" >2</text>
<circle cx="449.60" cy="100.90" r="1.25" fill="#000000"/>
<text x="449.60" y="96.30" font-size="6.90" fill="#000000" text-anchor="middle" font-weight="normal" >10</text>
<circle cx="454.70" cy="104.60" r="1.25" fill="#000000"/>
<text x="454.70" y="100.00" font-size="6.90" fill="#000000" text-anchor="middle" font-weight="normal" >12</text>
<circle cx="459.70" cy="112.80" r="1.25" fill="#000000"/>
<text x="459.70" y="108.20" font-size="6.90" fill="#000000" text-anchor="middle" font-weight="normal" >93</text>
<circle cx="460.10" cy="112.60" r="1.25" fill="#000000"/>
<text x="460.10" y="108.00" font-size="6.90" fill="#000000" text-anchor="middle" font-weight="normal" >43</text>
<circle cx="445.90" cy="116.20" r="1.25" fill="#000000"/>
<text x="445.90" y="111.60" font-size="6.90" fill="#000000" text-anchor="middle" font-weight="normal" >107</text>
<circle cx="453.30" cy="124.70" r="1.25" fill="#000000"/>
<text x="453.30" y="120.10" font-size="6.90" fill="#000000" text-anchor="middle" font-weight="normal" >108</text>
<circle cx="433.10" cy="125.20" r="1.25" fill="#000000"/>
<text x="433.10" y="120.60" font-size="6.90" fill="#000000" text-anchor="middle" font-weight="normal" >98</text>
<circle cx="432.10" cy="127.50" r="1.25" fill="#000000"/>
<circle cx="432.60" cy="125.60" r="1.25" fill="#000000"/>
<text x="432.60" y="121.00" font-size="6.90" fill="#000000" text-anchor="middle" font-weight="normal" >96</text>
<circle cx="443.30" cy="107.10" r="1.25" fill="#000000"/>
<text x="443.30" y="102.50" font-size="6.90" fill="#000000" text-anchor="middle" font-weight="normal" >8</text>
<circle cx="441.30" cy="108.60" r="1.25" fill="#000000"/>
<text x="441.30" y="104.00" font-size="6.90" fill="#000000" text-anchor="middle" font-weight="normal" >11</text>
<circle cx="439.30" cy="110.60" r="1.25" fill="#000000"/>
<text x="439.30" y="106.00" font-size="6.90" fill="#000000" text-anchor="middle" font-weight="normal" >100</text>
<circle cx="437.80" cy="112.10" r="1.25" fill="#000000"/>
<text x="437.80" y="107.50" font-size="6.90" fill="#000000" text-anchor="middle" font-weight="normal" >105</text>
<circle cx="438.60" cy="119.60" r="1.25" fill="#000000"/>
<text x="438.60" y="115.00" font-size="6.90" fill="#000000" text-anchor="middle" font-weight="normal" >106</text>
<circle cx="438.20" cy="119.20" r="1.25" fill="#000000"/>
<text x="438.20" y="114.60" font-size="6.90" fill="#000000" text-anchor="middle" font-weight="normal" >16</text>
<circle cx="441.80" cy="105.60" r="1.25" fill="#000000"/>
<circle cx="443.80" cy="108.10" r="1.25" fill="#000000"/>
<text x="443.80" y="103.50" font-size="6.90" fill="#000000" text-anchor="middle" font-weight="normal" >4</text>
<circle cx="446.80" cy="106.60" r="1.25" fill="#000000"/>
<text x="446.80" y="102.00" font-size="6.90" fill="#000000" text-anchor="middle" font-weight="normal" >3</text>
<circle cx="448.80" cy="102.10" r="1.25" fill="#000000"/>
<circle cx="440.60" cy="112.80" r="1.25" fill="#000000"/>
<text x="440.60" y="108.20" font-size="6.90" fill="#000000" text-anchor="middle" font-weight="normal" >104</text>
<circle cx="436.80" cy="109.40" r="1.25" fill="#000000"/>
<circle cx="439.60" cy="111.10" r="1.25" fill="#000000"/>
<rect x="400.1" y="52.5" width="44.2" height="30" fill="#fff" stroke="#222" stroke-width="0.7"/>
<text x="424.70" y="62.30" font-size="6.60" fill="#000000" text-anchor="middle" font-weight="normal" >cluster 1</text>
<text x="424.70" y="69.90" font-size="6.60" fill="#DF536B" text-anchor="middle" font-weight="normal" >cluster 2</text>
<text x="424.70" y="77.60" font-size="6.60" fill="#61D04F" text-anchor="middle" font-weight="normal" >cluster 3</text>
<circle cx="481.55" cy="187.97" r="1.15" fill="#DF536B"/>
<text x="481.55" y="183.37" font-size="6.90" fill="#DF536B" text-anchor="middle" font-weight="normal" fill-opacity="0.62">182</text>
<circle cx="495.66" cy="186.75" r="1.15" fill="#DF536B"/>
<text x="495.66" y="182.15" font-size="6.90" fill="#DF536B" text-anchor="middle" font-weight="normal" fill-opacity="0.62">128</text>
<circle cx="491.39" cy="197.78" r="1.15" fill="#DF536B"/>
<text x="491.39" y="193.18" font-size="6.90" fill="#DF536B" text-anchor="middle" font-weight="normal" fill-opacity="0.62">195</text>
<circle cx="479.79" cy="190.04" r="1.15" fill="#DF536B"/>
<text x="479.79" y="185.44" font-size="6.90" fill="#DF536B" text-anchor="middle" font-weight="normal" fill-opacity="0.62">73</text>
<circle cx="485.77" cy="186.95" r="1.15" fill="#DF536B"/>
<text x="485.77" y="182.35" font-size="6.90" fill="#DF536B" text-anchor="middle" font-weight="normal" fill-opacity="0.62">183</text>
<circle cx="473.81" cy="195.18" r="1.15" fill="#DF536B"/>
<text x="473.81" y="190.58" font-size="6.90" fill="#DF536B" text-anchor="middle" font-weight="normal" fill-opacity="0.62">74</text>
<circle cx="476.01" cy="197.05" r="1.15" fill="#DF536B"/>
<text x="476.01" y="192.45" font-size="6.90" fill="#DF536B" text-anchor="middle" font-weight="normal" fill-opacity="0.62">164</text>
<circle cx="478.74" cy="194.12" r="1.15" fill="#DF536B"/>
<text x="478.74" y="189.52" font-size="6.90" fill="#DF536B" text-anchor="middle" font-weight="normal" fill-opacity="0.62">155</text>
<circle cx="502.61" cy="194.64" r="1.15" fill="#DF536B"/>
<text x="502.61" y="190.04" font-size="6.90" fill="#DF536B" text-anchor="middle" font-weight="normal" fill-opacity="0.62">14</text>
<circle cx="485.76" cy="190.55" r="1.15" fill="#DF536B"/>
<text x="485.76" y="185.95" font-size="6.90" fill="#DF536B" text-anchor="middle" font-weight="normal" fill-opacity="0.62">153</text>
<circle cx="474.07" cy="189.91" r="1.15" fill="#DF536B"/>
<text x="474.07" y="185.31" font-size="6.90" fill="#DF536B" text-anchor="middle" font-weight="normal" fill-opacity="0.62">77</text>
<circle cx="495.76" cy="191.29" r="1.15" fill="#DF536B"/>
<text x="495.76" y="186.69" font-size="6.90" fill="#DF536B" text-anchor="middle" font-weight="normal" fill-opacity="0.62">231</text>
<circle cx="489.17" cy="190.29" r="1.15" fill="#DF536B"/>
<text x="489.17" y="185.69" font-size="6.90" fill="#DF536B" text-anchor="middle" font-weight="normal" fill-opacity="0.62">122</text>
<circle cx="504.91" cy="189.09" r="1.15" fill="#DF536B"/>
<text x="504.91" y="184.49" font-size="6.90" fill="#DF536B" text-anchor="middle" font-weight="normal" fill-opacity="0.62">72</text>
<circle cx="500.19" cy="186.62" r="1.15" fill="#DF536B"/>
<text x="500.19" y="182.02" font-size="6.90" fill="#DF536B" text-anchor="middle" font-weight="normal" fill-opacity="0.62">78</text>
<circle cx="497.03" cy="195.30" r="1.15" fill="#DF536B"/>
<text x="497.03" y="190.70" font-size="6.90" fill="#DF536B" text-anchor="middle" font-weight="normal" fill-opacity="0.62">150</text>
<circle cx="483.79" cy="197.87" r="1.15" fill="#DF536B"/>
<text x="483.79" y="193.27" font-size="6.90" fill="#DF536B" text-anchor="middle" font-weight="normal" fill-opacity="0.62">157</text>
<circle cx="482.41" cy="191.78" r="1.15" fill="#DF536B"/>
<text x="482.41" y="187.18" font-size="6.90" fill="#DF536B" text-anchor="middle" font-weight="normal" fill-opacity="0.62">146</text>
<circle cx="471.40" cy="188.73" r="1.15" fill="#DF536B"/>
<text x="471.40" y="184.13" font-size="6.90" fill="#DF536B" text-anchor="middle" font-weight="normal" fill-opacity="0.62">233</text>
<circle cx="479.14" cy="186.30" r="1.15" fill="#DF536B"/>
<text x="479.14" y="181.70" font-size="6.90" fill="#DF536B" text-anchor="middle" font-weight="normal" fill-opacity="0.62">225</text>
<circle cx="502.62" cy="185.26" r="1.15" fill="#DF536B"/>
<text x="502.62" y="180.66" font-size="6.90" fill="#DF536B" text-anchor="middle" font-weight="normal" fill-opacity="0.62">228</text>
<circle cx="479.18" cy="198.18" r="1.15" fill="#DF536B"/>
<text x="479.18" y="193.58" font-size="6.90" fill="#DF536B" text-anchor="middle" font-weight="normal" fill-opacity="0.62">133</text>
<circle cx="489.65" cy="193.59" r="1.15" fill="#DF536B"/>
<text x="489.65" y="188.99" font-size="6.90" fill="#DF536B" text-anchor="middle" font-weight="normal" fill-opacity="0.62">180</text>
<circle cx="471.39" cy="185.60" r="1.15" fill="#DF536B"/>
<text x="471.39" y="181.00" font-size="6.90" fill="#DF536B" text-anchor="middle" font-weight="normal" fill-opacity="0.62">145</text>
<circle cx="505.52" cy="191.93" r="1.15" fill="#DF536B"/>
<text x="505.52" y="187.33" font-size="6.90" fill="#DF536B" text-anchor="middle" font-weight="normal" fill-opacity="0.62">138</text>
<circle cx="494.11" cy="193.88" r="1.15" fill="#DF536B"/>
<text x="494.11" y="189.28" font-size="6.90" fill="#DF536B" text-anchor="middle" font-weight="normal" fill-opacity="0.62">134</text>
<circle cx="502.22" cy="198.46" r="1.15" fill="#DF536B"/>
<text x="502.22" y="193.86" font-size="6.90" fill="#DF536B" text-anchor="middle" font-weight="normal" fill-opacity="0.62">147</text>
<circle cx="471.26" cy="196.40" r="1.15" fill="#DF536B"/>
<text x="471.26" y="191.80" font-size="6.90" fill="#DF536B" text-anchor="middle" font-weight="normal" fill-opacity="0.62">175</text>
<circle cx="484.32" cy="194.08" r="1.15" fill="#DF536B"/>
<text x="484.32" y="189.48" font-size="6.90" fill="#DF536B" text-anchor="middle" font-weight="normal" fill-opacity="0.62">217</text>
<circle cx="489.58" cy="187.04" r="1.15" fill="#DF536B"/>
<text x="489.58" y="182.44" font-size="6.90" fill="#DF536B" text-anchor="middle" font-weight="normal" fill-opacity="0.62">139</text>
<circle cx="498.10" cy="198.03" r="1.15" fill="#DF536B"/>
<text x="498.10" y="193.43" font-size="6.90" fill="#DF536B" text-anchor="middle" font-weight="normal" fill-opacity="0.62">220</text>
<circle cx="475.94" cy="193.45" r="1.15" fill="#DF536B"/>
<text x="475.94" y="188.85" font-size="6.90" fill="#DF536B" text-anchor="middle" font-weight="normal" fill-opacity="0.62">188</text>
<circle cx="494.89" cy="197.38" r="1.15" fill="#DF536B"/>
<text x="494.89" y="192.78" font-size="6.90" fill="#DF536B" text-anchor="middle" font-weight="normal" fill-opacity="0.62">86</text>
<circle cx="499.66" cy="192.77" r="1.15" fill="#DF536B"/>
<text x="499.66" y="188.17" font-size="6.90" fill="#DF536B" text-anchor="middle" font-weight="normal" fill-opacity="0.62">15</text>
<circle cx="503.50" cy="209.77" r="1.15" fill="#DF536B"/>
<text x="503.50" y="205.17" font-size="6.90" fill="#DF536B" text-anchor="middle" font-weight="normal" fill-opacity="0.62">160</text>
<circle cx="502.21" cy="211.99" r="1.15" fill="#DF536B"/>
<text x="502.21" y="207.39" font-size="6.90" fill="#DF536B" text-anchor="middle" font-weight="normal" fill-opacity="0.62">190</text>
<circle cx="489.10" cy="199.79" r="1.15" fill="#DF536B"/>
<text x="489.10" y="195.19" font-size="6.90" fill="#DF536B" text-anchor="middle" font-weight="normal" fill-opacity="0.62">235</text>
<circle cx="508.48" cy="207.52" r="1.15" fill="#DF536B"/>
<text x="508.48" y="202.92" font-size="6.90" fill="#DF536B" text-anchor="middle" font-weight="normal" fill-opacity="0.62">198</text>
<circle cx="497.96" cy="203.87" r="1.15" fill="#DF536B"/>
<text x="497.96" y="199.27" font-size="6.90" fill="#DF536B" text-anchor="middle" font-weight="normal" fill-opacity="0.62">184</text>
<circle cx="493.85" cy="206.04" r="1.15" fill="#DF536B"/>
<text x="493.85" y="201.44" font-size="6.90" fill="#DF536B" text-anchor="middle" font-weight="normal" fill-opacity="0.62">68</text>
<circle cx="507.88" cy="199.58" r="1.15" fill="#DF536B"/>
<text x="507.88" y="194.98" font-size="6.90" fill="#DF536B" text-anchor="middle" font-weight="normal" fill-opacity="0.62">135</text>
<circle cx="491.19" cy="211.17" r="1.15" fill="#DF536B"/>
<text x="491.19" y="206.57" font-size="6.90" fill="#DF536B" text-anchor="middle" font-weight="normal" fill-opacity="0.62">148</text>
<circle cx="504.10" cy="205.96" r="1.15" fill="#DF536B"/>
<text x="504.10" y="201.36" font-size="6.90" fill="#DF536B" text-anchor="middle" font-weight="normal" fill-opacity="0.62">161</text>
<circle cx="493.98" cy="210.45" r="1.15" fill="#DF536B"/>
<text x="493.98" y="205.85" font-size="6.90" fill="#DF536B" text-anchor="middle" font-weight="normal" fill-opacity="0.62">79</text>
<circle cx="498.35" cy="207.70" r="1.15" fill="#DF536B"/>
<text x="498.35" y="203.10" font-size="6.90" fill="#DF536B" text-anchor="middle" font-weight="normal" fill-opacity="0.62">140</text>
<circle cx="500.92" cy="201.38" r="1.15" fill="#DF536B"/>
<text x="500.92" y="196.78" font-size="6.90" fill="#DF536B" text-anchor="middle" font-weight="normal" fill-opacity="0.62">208</text>
<circle cx="502.07" cy="203.24" r="1.15" fill="#DF536B"/>
<text x="502.07" y="198.64" font-size="6.90" fill="#DF536B" text-anchor="middle" font-weight="normal" fill-opacity="0.62">200</text>
<circle cx="501.64" cy="208.30" r="1.15" fill="#DF536B"/>
<text x="501.64" y="203.70" font-size="6.90" fill="#DF536B" text-anchor="middle" font-weight="normal" fill-opacity="0.62">193</text>
<circle cx="498.42" cy="200.47" r="1.15" fill="#DF536B"/>
<text x="498.42" y="195.87" font-size="6.90" fill="#DF536B" text-anchor="middle" font-weight="normal" fill-opacity="0.62">144</text>
<circle cx="508.74" cy="205.40" r="1.15" fill="#DF536B"/>
<text x="508.74" y="200.80" font-size="6.90" fill="#DF536B" text-anchor="middle" font-weight="normal" fill-opacity="0.62">23</text>
<circle cx="492.82" cy="199.99" r="1.15" fill="#DF536B"/>
<text x="492.82" y="195.39" font-size="6.90" fill="#DF536B" text-anchor="middle" font-weight="normal" fill-opacity="0.62">136</text>
<circle cx="490.10" cy="202.65" r="1.15" fill="#DF536B"/>
<text x="490.10" y="198.05" font-size="6.90" fill="#DF536B" text-anchor="middle" font-weight="normal" fill-opacity="0.62">197</text>
<circle cx="497.15" cy="212.52" r="1.15" fill="#DF536B"/>
<text x="497.15" y="207.92" font-size="6.90" fill="#DF536B" text-anchor="middle" font-weight="normal" fill-opacity="0.62">75</text>
<circle cx="507.92" cy="211.43" r="1.15" fill="#DF536B"/>
<text x="507.92" y="206.83" font-size="6.90" fill="#DF536B" text-anchor="middle" font-weight="normal" fill-opacity="0.62">176</text>
<circle cx="495.94" cy="200.18" r="1.15" fill="#DF536B"/>
<text x="495.94" y="195.58" font-size="6.90" fill="#DF536B" text-anchor="middle" font-weight="normal" fill-opacity="0.62">163</text>
<circle cx="491.94" cy="204.12" r="1.15" fill="#DF536B"/>
<text x="491.94" y="199.52" font-size="6.90" fill="#DF536B" text-anchor="middle" font-weight="normal" fill-opacity="0.62">192</text>
<circle cx="495.57" cy="203.14" r="1.15" fill="#DF536B"/>
<text x="495.57" y="198.54" font-size="6.90" fill="#DF536B" text-anchor="middle" font-weight="normal" fill-opacity="0.62">181</text>
<circle cx="504.44" cy="211.56" r="1.15" fill="#DF536B"/>
<text x="504.44" y="206.96" font-size="6.90" fill="#DF536B" text-anchor="middle" font-weight="normal" fill-opacity="0.62">137</text>
<circle cx="495.83" cy="224.56" r="1.15" fill="#DF536B"/>
<text x="495.83" y="219.96" font-size="6.90" fill="#DF536B" text-anchor="middle" font-weight="normal" fill-opacity="0.62">142</text>
<circle cx="493.91" cy="221.49" r="1.15" fill="#DF536B"/>
<text x="493.91" y="216.89" font-size="6.90" fill="#DF536B" text-anchor="middle" font-weight="normal" fill-opacity="0.62">165</text>
<circle cx="497.49" cy="226.19" r="1.15" fill="#DF536B"/>
<text x="497.49" y="221.59" font-size="6.90" fill="#DF536B" text-anchor="middle" font-weight="normal" fill-opacity="0.62">219</text>
<circle cx="502.77" cy="217.02" r="1.15" fill="#DF536B"/>
<text x="502.77" y="212.42" font-size="6.90" fill="#DF536B" text-anchor="middle" font-weight="normal" fill-opacity="0.62">202</text>
<circle cx="497.43" cy="223.59" r="1.15" fill="#DF536B"/>
<text x="497.43" y="218.99" font-size="6.90" fill="#DF536B" text-anchor="middle" font-weight="normal" fill-opacity="0.62">130</text>
<circle cx="504.02" cy="218.20" r="1.15" fill="#DF536B"/>
<text x="504.02" y="213.60" font-size="6.90" fill="#DF536B" text-anchor="middle" font-weight="normal" fill-opacity="0.62">205</text>
<circle cx="506.25" cy="213.73" r="1.15" fill="#DF536B"/>
<text x="506.25" y="209.13" font-size="6.90" fill="#DF536B" text-anchor="middle" font-weight="normal" fill-opacity="0.62">121</text>
<circle cx="500.18" cy="218.35" r="1.15" fill="#DF536B"/>
<text x="500.18" y="213.75" font-size="6.90" fill="#DF536B" text-anchor="middle" font-weight="normal" fill-opacity="0.62">159</text>
<circle cx="495.34" cy="218.41" r="1.15" fill="#DF536B"/>
<text x="495.34" y="213.81" font-size="6.90" fill="#DF536B" text-anchor="middle" font-weight="normal" fill-opacity="0.62">210</text>
<circle cx="497.17" cy="221.74" r="1.15" fill="#DF536B"/>
<text x="497.17" y="217.14" font-size="6.90" fill="#DF536B" text-anchor="middle" font-weight="normal" fill-opacity="0.62">223</text>
<circle cx="498.36" cy="215.94" r="1.15" fill="#DF536B"/>
<text x="498.36" y="211.34" font-size="6.90" fill="#DF536B" text-anchor="middle" font-weight="normal" fill-opacity="0.62">85</text>
<circle cx="502.75" cy="219.61" r="1.15" fill="#DF536B"/>
<text x="502.75" y="215.01" font-size="6.90" fill="#DF536B" text-anchor="middle" font-weight="normal" fill-opacity="0.62">207</text>
<circle cx="493.44" cy="216.02" r="1.15" fill="#DF536B"/>
<text x="493.44" y="211.42" font-size="6.90" fill="#DF536B" text-anchor="middle" font-weight="normal" fill-opacity="0.62">154</text>
<circle cx="496.00" cy="220.38" r="1.15" fill="#DF536B"/>
<text x="496.00" y="215.78" font-size="6.90" fill="#DF536B" text-anchor="middle" font-weight="normal" fill-opacity="0.62">201</text>
<circle cx="490.83" cy="215.43" r="1.15" fill="#DF536B"/>
<text x="490.83" y="210.83" font-size="6.90" fill="#DF536B" text-anchor="middle" font-weight="normal" fill-opacity="0.62">110</text>
<circle cx="494.87" cy="223.04" r="1.15" fill="#DF536B"/>
<text x="494.87" y="218.44" font-size="6.90" fill="#DF536B" text-anchor="middle" font-weight="normal" fill-opacity="0.62">91</text>
<circle cx="493.78" cy="224.48" r="1.15" fill="#DF536B"/>
<text x="493.78" y="219.88" font-size="6.90" fill="#DF536B" text-anchor="middle" font-weight="normal" fill-opacity="0.62">112</text>
<circle cx="494.44" cy="226.15" r="1.15" fill="#DF536B"/>
<text x="494.44" y="221.55" font-size="6.90" fill="#DF536B" text-anchor="middle" font-weight="normal" fill-opacity="0.62">89</text>
<circle cx="503.50" cy="223.86" r="1.15" fill="#DF536B"/>
<text x="503.50" y="219.26" font-size="6.90" fill="#DF536B" text-anchor="middle" font-weight="normal" fill-opacity="0.62">179</text>
<circle cx="492.53" cy="219.46" r="1.15" fill="#DF536B"/>
<text x="492.53" y="214.86" font-size="6.90" fill="#DF536B" text-anchor="middle" font-weight="normal" fill-opacity="0.62">215</text>
<circle cx="502.51" cy="225.62" r="1.15" fill="#DF536B"/>
<text x="502.51" y="221.02" font-size="6.90" fill="#DF536B" text-anchor="middle" font-weight="normal" fill-opacity="0.62">90</text>
<circle cx="498.00" cy="219.99" r="1.15" fill="#DF536B"/>
<text x="498.00" y="215.39" font-size="6.90" fill="#DF536B" text-anchor="middle" font-weight="normal" fill-opacity="0.62">171</text>
<circle cx="500.45" cy="224.16" r="1.15" fill="#DF536B"/>
<text x="500.45" y="219.56" font-size="6.90" fill="#DF536B" text-anchor="middle" font-weight="normal" fill-opacity="0.62">203</text>
<circle cx="503.53" cy="213.79" r="1.15" fill="#DF536B"/>
<text x="503.53" y="209.19" font-size="6.90" fill="#DF536B" text-anchor="middle" font-weight="normal" fill-opacity="0.62">149</text>
<circle cx="492.07" cy="212.62" r="1.15" fill="#DF536B"/>
<text x="492.07" y="208.02" font-size="6.90" fill="#DF536B" text-anchor="middle" font-weight="normal" fill-opacity="0.62">158</text>
<circle cx="495.30" cy="213.99" r="1.15" fill="#DF536B"/>
<text x="495.30" y="209.39" font-size="6.90" fill="#DF536B" text-anchor="middle" font-weight="normal" fill-opacity="0.62">173</text>
<circle cx="499.47" cy="212.62" r="1.15" fill="#DF536B"/>
<text x="499.47" y="208.02" font-size="6.90" fill="#DF536B" text-anchor="middle" font-weight="normal" fill-opacity="0.62">88</text>
<circle cx="491.29" cy="218.15" r="1.15" fill="#DF536B"/>
<text x="491.29" y="213.55" font-size="6.90" fill="#DF536B" text-anchor="middle" font-weight="normal" fill-opacity="0.62">21</text>
<circle cx="503.00" cy="215.41" r="1.15" fill="#DF536B"/>
<text x="503.00" y="210.81" font-size="6.90" fill="#DF536B" text-anchor="middle" font-weight="normal" fill-opacity="0.62">209</text>
<circle cx="504.76" cy="216.31" r="1.15" fill="#DF536B"/>
<text x="504.76" y="211.71" font-size="6.90" fill="#DF536B" text-anchor="middle" font-weight="normal" fill-opacity="0.62">131</text>
<circle cx="500.84" cy="214.13" r="1.15" fill="#DF536B"/>
<text x="500.84" y="209.53" font-size="6.90" fill="#DF536B" text-anchor="middle" font-weight="normal" fill-opacity="0.62">18</text>
<circle cx="503.48" cy="221.14" r="1.15" fill="#DF536B"/>
<text x="503.48" y="216.54" font-size="6.90" fill="#DF536B" text-anchor="middle" font-weight="normal" fill-opacity="0.62">189</text>
<circle cx="485.70" cy="173.90" r="1.25" fill="#DF536B"/>
<text x="485.70" y="169.30" font-size="6.90" fill="#DF536B" text-anchor="middle" font-weight="normal" >13</text>
<circle cx="470.30" cy="204.00" r="1.25" fill="#DF536B"/>
<circle cx="473.00" cy="202.80" r="1.25" fill="#DF536B"/>
<circle cx="481.30" cy="211.60" r="1.25" fill="#DF536B"/>
<circle cx="484.00" cy="212.70" r="1.25" fill="#DF536B"/>
<circle cx="510.90" cy="224.70" r="1.25" fill="#DF536B"/>
<circle cx="493.30" cy="231.20" r="1.25" fill="#DF536B"/>
<circle cx="497.30" cy="230.00" r="1.25" fill="#DF536B"/>
<circle cx="500.60" cy="232.10" r="1.25" fill="#DF536B"/>
<circle cx="504.90" cy="242.50" r="1.25" fill="#DF536B"/>
<text x="504.90" y="237.90" font-size="6.90" fill="#DF536B" text-anchor="middle" font-weight="normal" >132</text>
<circle cx="509.80" cy="224.60" r="1.25" fill="#DF536B"/>
<text x="509.80" y="220.00" font-size="6.90" fill="#DF536B" text-anchor="middle" font-weight="normal" >213</text>
<circle cx="482.30" cy="208.10" r="1.25" fill="#DF536B"/>
<text x="482.30" y="203.50" font-size="6.90" fill="#DF536B" text-anchor="middle" font-weight="normal" >122</text>
<circle cx="502.80" cy="181.60" r="1.25" fill="#DF536B"/>
<text x="502.80" y="177.00" font-size="6.90" fill="#DF536B" text-anchor="middle" font-weight="normal" >37</text>
<circle cx="470.80" cy="184.10" r="1.25" fill="#DF536B"/>
<text x="470.80" y="179.50" font-size="6.90" fill="#DF536B" text-anchor="middle" font-weight="normal" >95</text>
<circle cx="474.80" cy="184.30" r="1.25" fill="#DF536B"/>
<text x="474.80" y="179.70" font-size="6.90" fill="#DF536B" text-anchor="middle" font-weight="normal" >90</text>
<circle cx="486.80" cy="181.60" r="1.25" fill="#DF536B"/>
<text x="486.80" y="177.00" font-size="6.90" fill="#DF536B" text-anchor="middle" font-weight="normal" >24</text>
<circle cx="490.80" cy="181.60" r="1.25" fill="#DF536B"/>
<text x="490.80" y="177.00" font-size="6.90" fill="#DF536B" text-anchor="middle" font-weight="normal" >14</text>
<circle cx="494.30" cy="181.60" r="1.25" fill="#DF536B"/>
<text x="494.30" y="177.00" font-size="6.90" fill="#DF536B" text-anchor="middle" font-weight="normal" >44</text>
<circle cx="470.50" cy="200.10" r="1.25" fill="#DF536B"/>
<text x="470.50" y="195.50" font-size="6.90" fill="#DF536B" text-anchor="middle" font-weight="normal" >84</text>
<circle cx="471.30" cy="190.60" r="1.25" fill="#DF536B"/>
<text x="471.30" y="186.00" font-size="6.90" fill="#DF536B" text-anchor="middle" font-weight="normal" >81</text>
<line x1="400.10" y1="179.45" x2="680.40" y2="179.45" stroke="#222" stroke-width="0.70" stroke-dasharray="2.33 2.33" stroke-dashoffset="-1.2"/>
<line x1="501.35" y1="38.50" x2="501.35" y2="302.95" stroke="#222" stroke-width="0.70" stroke-dasharray="2.33 2.33" stroke-dashoffset="-1.2"/>
</g></svg></body></html>
